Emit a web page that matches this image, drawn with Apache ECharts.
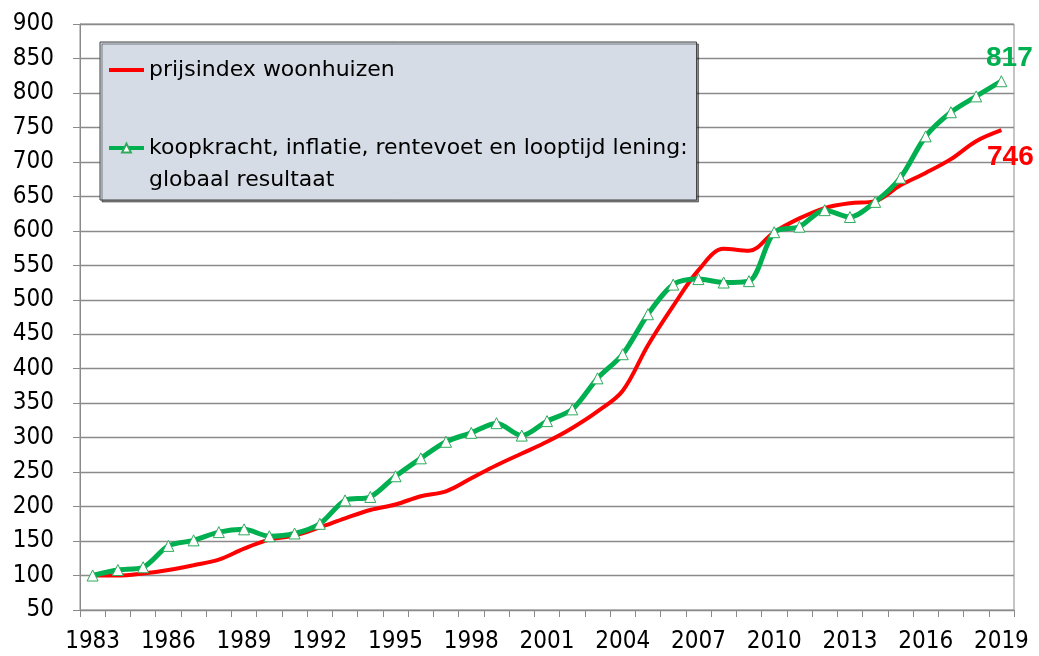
<!DOCTYPE html>
<html>
<head>
<meta charset="utf-8">
<script src="https://cdn.jsdelivr.net/npm/echarts@6/dist/echarts.min.js"></script>
<style>
html,body{margin:0;padding:0;background:#fff;}
#chart{width:1039px;height:656px;}
</style>
</head>
<body>
<div id="chart"></div>
<script>
const years = ['1983','1984','1985','1986','1987','1988','1989','1990','1991','1992','1993','1994','1995','1996','1997','1998','1999','2000','2001','2002','2003','2004','2005','2006','2007','2008','2009','2010','2011','2012','2013','2014','2015','2016','2017','2018','2019'];
const prijsindex = [100,100,103,108,115,123,139,152,158,170,183,195,203,215,222,241,260,277,294,314,338,368,434,491,543,574,571,598,618,633,640,643,666,684,704,730,746];
const koopkracht = [100,108,112,143,151,163,167,157,161,175,209,214,244,270,294,307,321,303,324,341,386,421,479,522,530,525,527,598,606,630,620,642,677,737,772,795,817];
const seriesNames = ['prijsindex woonhuizen', 'koopkracht, inflatie, rentevoet en looptijd lening:\nglobaal resultaat'];

const FONT = 'DejaVu Sans';
const AXISFONT = 'DejaVu Sans Condensed';
const last = years.length - 1;

function withEndLabel(values, labelCfg) {
  return values.map((v, i) => i === last ? { value: v, label: labelCfg } : v);
}

const chart = echarts.init(document.getElementById('chart'), null, { renderer: 'canvas' });
chart.setOption({
  animation: false,
  backgroundColor: '#ffffff',
  grid: { left: 80, right: 25, top: 24, bottom: 46, show: true, borderColor: '#8a8a8a', borderWidth: 1 },
  legend: {
    left: 100, top: 42,
    orient: 'vertical',
    padding: [12, 9, 4, 7],
    itemGap: 14,
    itemWidth: 35,
    itemHeight: 11,
    backgroundColor: '#d6dce5',
    borderColor: '#404040',
    borderWidth: 1,
    shadowColor: 'rgba(0,0,0,0.45)',
    shadowOffsetX: 2,
    shadowOffsetY: 2,
    shadowBlur: 0,
    selectedMode: false,
    textStyle: { fontFamily: FONT, fontSize: 22, color: '#000', lineHeight: 32 },
    formatter: function (name) { return name.indexOf('\n') >= 0 ? '\n' + name : name; },
    data: [
      { name: seriesNames[0], itemStyle: { color: 'rgba(0,0,0,0)', borderWidth: 0 }, lineStyle: { color: '#ff0000', width: 4 } },
      { name: seriesNames[1], lineStyle: { color: '#00b050', width: 4 } }
    ]
  },
  xAxis: {
    type: 'category',
    data: years,
    boundaryGap: true,
    axisLine: { show: true, lineStyle: { color: '#8a8a8a', width: 1 } },
    axisTick: { show: true, interval: 0, length: 7, lineStyle: { color: '#8a8a8a' } },
    axisLabel: { interval: 2, margin: 20, fontFamily: AXISFONT, fontSize: 24, color: '#000' },
    splitLine: { show: false }
  },
  yAxis: {
    type: 'value',
    min: 50, max: 900, interval: 50,
    axisLine: { show: true, lineStyle: { color: '#8a8a8a', width: 1 } },
    axisTick: { show: true, length: 7, lineStyle: { color: '#8a8a8a' } },
    axisLabel: { margin: 26, fontFamily: AXISFONT, fontSize: 24, color: '#000' },
    splitLine: { show: true, lineStyle: { color: '#8a8a8a', width: 1.3 } }
  },
  series: [
    {
      name: seriesNames[0],
      type: 'line',
      color: '#ff0000',
      smooth: 0.35,
      symbol: 'circle',
      symbolSize: 1,
      showSymbol: true,
      showAllSymbol: true,
      itemStyle: { color: 'rgba(0,0,0,0)', borderWidth: 0 },
      lineStyle: { color: '#ff0000', width: 4 },
      data: withEndLabel(prijsindex, {
        show: true, position: 'bottom', distance: 13, offset: [9, 0],
        fontFamily: 'Liberation Sans', fontWeight: 'bold', fontSize: 28, color: '#ff0000',
        formatter: '{c}'
      }),
      z: 2
    },
    {
      name: seriesNames[1],
      type: 'line',
      color: '#00b050',
      smooth: 0.3,
      symbol: 'triangle',
      symbolSize: 11,
      showAllSymbol: true,
      itemStyle: { color: '#ffffff', borderColor: '#2eaa5c', borderWidth: 1 },
      lineStyle: { color: '#00b050', width: 5 },
      data: withEndLabel(koopkracht, {
        show: true, position: 'top', distance: 3, offset: [8, 0],
        fontFamily: 'Liberation Sans', fontWeight: 'bold', fontSize: 28, color: '#00b050',
        formatter: '{c}'
      }),
      z: 3
    }
  ]
});
</script>
</body>
</html>
